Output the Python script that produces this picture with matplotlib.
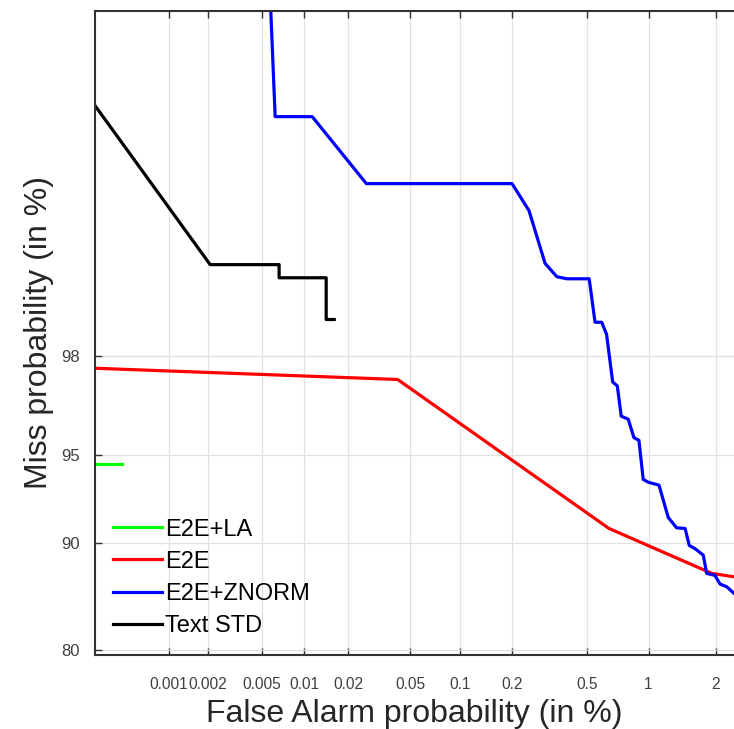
import numpy as np
import matplotlib
matplotlib.use('Agg')
from matplotlib import pyplot as plt
from matplotlib.ticker import FixedLocator, FixedFormatter, NullLocator
from statistics import NormalDist

plt.rcParams['font.family'] = ['Liberation Sans', 'DejaVu Sans']

# DET curves: false alarm (%) / miss (%)
la_fa = [0.00025, 0.00042]
la_miss = [94.64, 94.64]

e2e_fa = [0.00025, 0.0418, 0.645, 1.92, 2.38]
e2e_miss = [97.75, 97.49, 91.04, 87.65, 87.36]

znorm_fa = [0.0056, 0.00626, 0.0114, 0.0263, 0.200, 0.248, 0.303, 0.350, 0.395,
            0.514, 0.550, 0.594, 0.628, 0.673, 0.709, 0.741, 0.801, 0.853, 0.901,
            0.944, 0.997, 1.118, 1.233, 1.346, 1.468, 1.532, 1.634, 1.764, 1.824,
            1.98, 2.08, 2.22, 2.38]
znorm_miss = [99.99, 99.883, 99.883, 99.717, 99.717, 99.604, 99.26, 99.14, 99.12,
              99.12, 98.59, 98.59, 98.40, 97.43, 97.33, 96.46, 96.36, 95.71, 95.61,
              93.89, 93.75, 93.60, 91.75, 91.08, 91.04, 89.85, 89.58, 89.12, 87.65,
              87.48, 86.73, 86.49, 85.88]

std_fa = [0.00025, 0.00208, 0.00668, 0.00668, 0.0142, 0.0142, 0.0161]
std_miss = [99.9, 99.25, 99.25, 99.13, 99.13, 98.63, 98.63]

fa_ticks = [0.001, 0.002, 0.005, 0.01, 0.02, 0.05, 0.1, 0.2, 0.5, 1, 2]
fa_labels = ['0.001', '0.002', '0.005', '0.01', '0.02', '0.05', '0.1', '0.2', '0.5', '1', '2']
miss_ticks = [80, 90, 95, 98]
miss_labels = ['80', '90', '95', '98']

# probit scale (percent in, normal deviate out)
nd = NormalDist()
_ppf = np.vectorize(lambda p: nd.inv_cdf(min(max(p, 1e-12), 1 - 1e-12)), otypes=[float])
_cdf = np.vectorize(nd.cdf, otypes=[float])


def fwd(v):
    return _ppf(np.asarray(v, dtype=float) / 100.0)


def inv(z):
    return 100.0 * _cdf(np.asarray(z, dtype=float))


fig = plt.figure(figsize=(7.34, 7.29), dpi=100)
ax = fig.add_axes([95/734, 1 - 655/729, (734 - 95)/734, (655 - 10.7)/729])

ax.set_xscale('function', functions=(fwd, inv))
ax.set_yscale('function', functions=(fwd, inv))

lw = 2.3
ax.plot(la_fa, la_miss, color=(0, 1, 0), lw=lw, label='E2E+LA')
ax.plot(e2e_fa, e2e_miss, color=(1, 0, 0), lw=lw, label='E2E')
ax.plot(znorm_fa, znorm_miss, color=(0, 0, 1), lw=lw, label='E2E+ZNORM')
ax.plot(std_fa, std_miss, color='black', lw=lw, label='Text STD')

ax.set_xlim(0.000251, 2.38)
ax.set_ylim(79.41, 99.975)

ax.xaxis.set_major_locator(FixedLocator(fa_ticks))
ax.xaxis.set_major_formatter(FixedFormatter(fa_labels))
ax.yaxis.set_major_locator(FixedLocator(miss_ticks))
ax.yaxis.set_major_formatter(FixedFormatter(miss_labels))
ax.xaxis.set_minor_locator(NullLocator())
ax.yaxis.set_minor_locator(NullLocator())

ax.grid(True, color='#e0e0e0', lw=0.9)
ax.set_axisbelow(True)

ax.xaxis.set_ticks_position('both')
ax.tick_params(axis='both', which='major', direction='in', length=5, width=1, color='#333333')
ax.tick_params(axis='x', labelsize=11.2, pad=16, labelcolor='#404040')
ax.tick_params(axis='y', labelsize=12, pad=11, labelcolor='#404040')

for s in ['top', 'bottom', 'left']:
    ax.spines[s].set_linewidth(1.5)
    ax.spines[s].set_color('#333333')
ax.spines['right'].set_visible(False)

ax.set_xlabel('False Alarm probability (in %)', fontsize=23, color='#262626', labelpad=5)
ax.set_ylabel('Miss probability (in %)', fontsize=23, color='#262626', labelpad=5)

ax.legend(loc='lower left', bbox_to_anchor=(0.0277, 0.028), frameon=False, fontsize=17,
          handlelength=2.1, handletextpad=0.12, labelspacing=0.43, borderpad=0,
          borderaxespad=0)

plt.savefig('out.png', dpi=100)
